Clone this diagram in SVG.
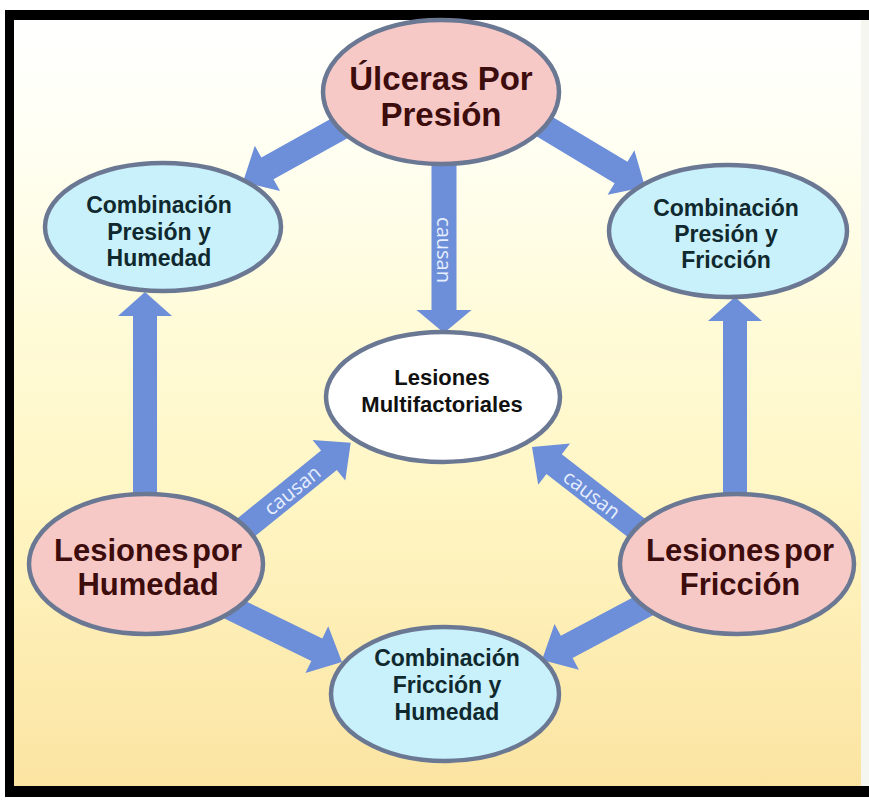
<svg xmlns="http://www.w3.org/2000/svg" width="869" height="802" viewBox="0 0 869 802">
<defs>
<linearGradient id="bg" x1="0" y1="0" x2="0" y2="1">
<stop offset="0" stop-color="#ffffff"/>
<stop offset="0.15" stop-color="#fffff4"/>
<stop offset="0.4" stop-color="#fffbd8"/>
<stop offset="0.62" stop-color="#fff6c4"/>
<stop offset="1" stop-color="#fbe4a2"/>
</linearGradient>
<style>
.arr{fill:#6d8ed9;}
.pink{fill:#f7c9c6;stroke:#6b7893;stroke-width:4.5;}
.cyan{fill:#c9f1fb;stroke:#6b7893;stroke-width:4.5;}
.white{fill:#ffffff;stroke:#6b7893;stroke-width:4.5;}
.tp{font-family:"Liberation Sans",Arial,sans-serif;font-weight:bold;fill:#3d0c0c;text-anchor:middle;}
.tc{font-family:"Liberation Sans",Arial,sans-serif;font-weight:bold;fill:#10292f;text-anchor:middle;font-size:23px;}
.tm{font-family:"Liberation Sans",Arial,sans-serif;font-weight:bold;fill:#111111;text-anchor:middle;font-size:22px;}
.lab{font-family:"Open Sans","Noto Sans",sans-serif;font-size:20px;fill:#e6efff;text-anchor:middle;dominant-baseline:central;}
</style>
</defs>
<rect width="869" height="802" fill="#ffffff"/>
<rect x="5" y="10" width="864" height="787" fill="#000000"/>
<rect x="14" y="20" width="847" height="766" fill="url(#bg)"/>
<rect x="861" y="20" width="8" height="766" fill="#f6f6f0"/>

<g id="connectors">
<polygon class="arr" transform="translate(243,182) rotate(150.9)" points="-125,-12.5 -28,-12.5 -28,-26 0,0 -28,26 -28,12.5 -125,12.5"/>
<polygon class="arr" transform="translate(645,187) rotate(31)" points="-125,-12.5 -28,-12.5 -28,-26 0,0 -28,26 -28,12.5 -125,12.5"/>
<polygon class="arr" transform="translate(444,333) rotate(90)" points="-175,-12.5 -23,-12.5 -23,-27.5 0,0 -23,27.5 -23,12.5 -175,12.5"/>
<polygon class="arr" transform="translate(145,292) rotate(-90)" points="-215,-12 -24,-12 -24,-27 0,0 -24,27 -24,12 -215,12"/>
<polygon class="arr" transform="translate(735,297) rotate(-90)" points="-215,-12 -24,-12 -24,-27 0,0 -24,27 -24,12 -215,12"/>
<polygon class="arr" transform="translate(350.7,442.7) rotate(-39)" points="-150,-12.5 -28,-12.5 -28,-26 0,0 -28,26 -28,12.5 -150,12.5"/>
<polygon class="arr" transform="translate(532,447) rotate(217.8)" points="-150,-12.5 -28,-12.5 -28,-26 0,0 -28,26 -28,12.5 -150,12.5"/>
<polygon class="arr" transform="translate(342,662) rotate(26)" points="-135,-12.5 -28,-12.5 -28,-26 0,0 -28,26 -28,12.5 -135,12.5"/>
<polygon class="arr" transform="translate(542,660) rotate(152)" points="-135,-12.5 -28,-12.5 -28,-26 0,0 -28,26 -28,12.5 -135,12.5"/>
<text class="lab" x="444" y="250" transform="rotate(90 444 250)">causan</text>
<text class="lab" x="292" y="490" transform="rotate(-39 292 490)">causan</text>
<text class="lab" x="592" y="494" transform="rotate(37.8 592 494)">causan</text>
</g>

<g id="ulceras">
<ellipse class="pink" cx="441" cy="92" rx="118" ry="72"/>
<text class="tp" x="441" y="90" font-size="33">Úlceras Por</text>
<text class="tp" x="441" y="126" font-size="33">Presión</text>
</g>

<g id="comb-presion-humedad">
<ellipse class="cyan" cx="163" cy="227" rx="118" ry="64"/>
<text class="tc" x="159" y="213">Combinación</text>
<text class="tc" x="159" y="240">Presión y</text>
<text class="tc" x="159" y="266">Humedad</text>
</g>

<g id="comb-presion-friccion">
<ellipse class="cyan" cx="728" cy="231" rx="119" ry="66"/>
<text class="tc" x="726" y="216">Combinación</text>
<text class="tc" x="726" y="242">Presión y</text>
<text class="tc" x="726" y="268">Fricción</text>
</g>

<g id="multifactoriales">
<ellipse class="white" cx="443" cy="397" rx="117" ry="65"/>
<text class="tm" x="442" y="385">Lesiones</text>
<text class="tm" x="442" y="412">Multifactoriales</text>
</g>

<g id="lesiones-humedad">
<ellipse class="pink" cx="146" cy="564" rx="117" ry="70"/>
<text class="tp" x="148" y="561" font-size="31" word-spacing="-5">Lesiones por</text>
<text class="tp" x="148" y="595" font-size="31">Humedad</text>
</g>

<g id="lesiones-friccion">
<ellipse class="pink" cx="737" cy="564" rx="117" ry="70"/>
<text class="tp" x="740" y="561" font-size="31" word-spacing="-5">Lesiones por</text>
<text class="tp" x="740" y="595" font-size="31">Fricción</text>
</g>

<g id="comb-friccion-humedad">
<ellipse class="cyan" cx="445" cy="694" rx="114" ry="67"/>
<text class="tc" x="447" y="666">Combinación</text>
<text class="tc" x="447" y="693">Fricción y</text>
<text class="tc" x="447" y="720">Humedad</text>
</g>
</svg>
